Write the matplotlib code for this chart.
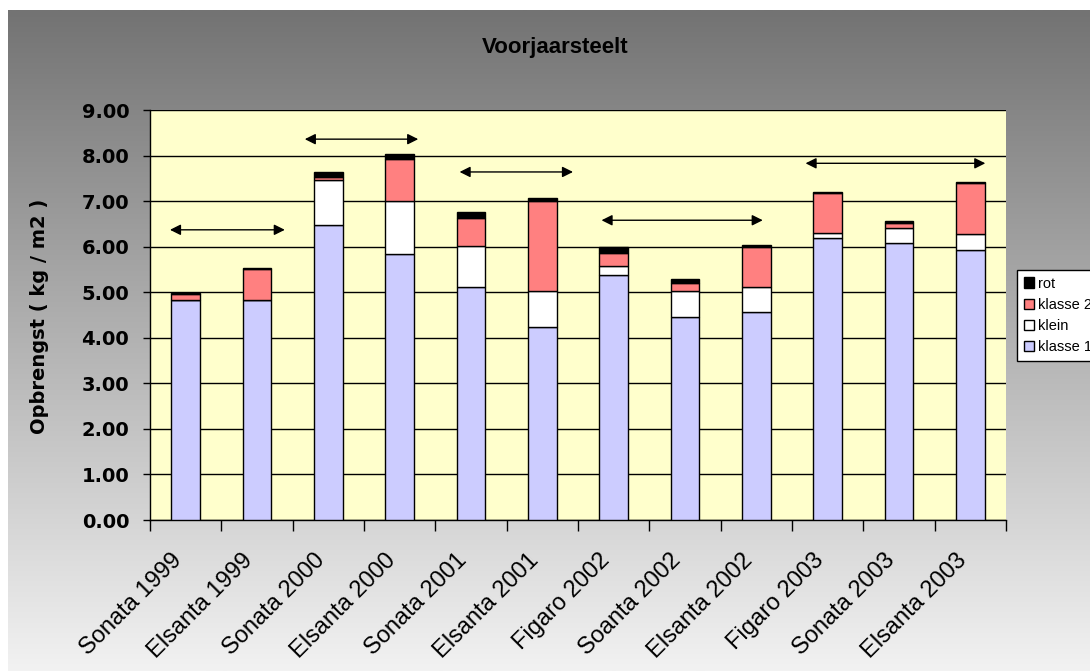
import numpy as np
import matplotlib
matplotlib.use("Agg")
import matplotlib.pyplot as plt
import matplotlib.transforms as mtransforms
from matplotlib.colors import LinearSegmentedColormap
from matplotlib.patches import Patch
from matplotlib.ticker import FormatStrFormatter

# ── data (kg / m2) ───────────────────────────────────────────────────────────
categories = ["Sonata 1999", "Elsanta 1999", "Sonata 2000", "Elsanta 2000",
              "Sonata 2001", "Elsanta 2001", "Figaro 2002", "Soanta 2002",
              "Elsanta 2002", "Figaro 2003", "Sonata 2003", "Elsanta 2003"]
klasse1 = [4.83, 4.83, 6.47, 5.84, 5.12, 4.24, 5.38, 4.46, 4.56, 6.18, 6.07, 5.93]
klein   = [0.00, 0.00, 0.99, 1.16, 0.89, 0.79, 0.20, 0.57, 0.56, 0.11, 0.35, 0.35]
klasse2 = [0.13, 0.68, 0.08, 0.92, 0.62, 1.98, 0.29, 0.18, 0.88, 0.89, 0.11, 1.12]
rot     = [0.02, 0.02, 0.09, 0.11, 0.14, 0.05, 0.12, 0.08, 0.03, 0.01, 0.03, 0.03]
yticks  = [0, 1, 2, 3, 4, 5, 6, 7, 8, 9]

# double arrows grouping the years (category units / kg m-2)
arrow_y  = [6.37, 8.36, 7.64, 6.58, 7.83]
arrow_x0 = [-0.22, 1.67, 3.84, 5.83, 8.69]
arrow_x1 = [1.39, 3.26, 5.43, 8.09, 11.21]

COL_K1, COL_KLEIN, COL_K2, COL_ROT = "#ccccff", "#ffffff", "#ff8080", "#000000"

W, H = 1090, 671
fig = plt.figure(figsize=(W / 100, H / 100), dpi=100)
fig.patch.set_facecolor("white")

# ── gradient chart background ────────────────────────────────────────────────
bg = fig.add_axes([8 / W, 0, 1 - 8 / W, 1 - 10 / H], zorder=-10)
grad = np.linspace(0, 1, 256).reshape(-1, 1)
cmap = LinearSegmentedColormap.from_list("bg", ["#737373", "#f2f2f2"])
bg.imshow(grad, aspect="auto", cmap=cmap, extent=[0, 1, 0, 1])
bg.set_axis_off()

# ── plot area ────────────────────────────────────────────────────────────────
ax = fig.add_axes([150 / W, 1 - 520 / H, 856 / W, 410 / H])
ax.set_facecolor("#ffffcc")
x = np.arange(len(categories))
k1 = np.array(klasse1); kl = np.array(klein); k2 = np.array(klasse2); r = np.array(rot)
bw = 0.4
kw = dict(width=bw, edgecolor="black", linewidth=1.0, zorder=3)
ax.bar(x, k1, color=COL_K1, **kw)
ax.bar(x, kl, bottom=k1, color=COL_KLEIN, **kw)
ax.bar(x, k2, bottom=k1 + kl, color=COL_K2, **kw)
ax.bar(x, r, bottom=k1 + kl + k2, color=COL_ROT, **kw)

for y, a, b in zip(arrow_y, arrow_x0, arrow_x1):
    ax.annotate("", xy=(b, y), xytext=(a, y),
                arrowprops=dict(arrowstyle="<|-|>", color="black", lw=1.0,
                                mutation_scale=16, shrinkA=0, shrinkB=0),
                zorder=4)

ax.set_xlim(-0.5, len(categories) - 0.5)
ax.set_ylim(0, 9)
ax.set_yticks(yticks)
ax.yaxis.set_major_formatter(FormatStrFormatter("%.2f"))
ax.grid(axis="y", color="black", lw=1.0, zorder=0)
ax.set_axisbelow(True)
for s in ("top", "right"):
    ax.spines[s].set_visible(False)
for s in ("left", "bottom"):
    ax.spines[s].set_linewidth(1.0)

# ticks between categories, rotated names drawn as text
ax.set_xticks(np.arange(len(categories) + 1) - 0.5)
ax.set_xticklabels([])
ax.tick_params(axis="x", which="major", length=8, width=1, direction="out")
lbl_tr = ax.get_xaxis_transform() + mtransforms.ScaledTranslation(
    -0.15, -0.29, fig.dpi_scale_trans)
for xi, name in zip(x, categories):
    ax.text(xi, 0, name, transform=lbl_tr, rotation=45, ha="right", va="top",
            rotation_mode="anchor", fontsize=17, family="Liberation Sans",
            clip_on=False)

ax.tick_params(axis="y", length=5, width=1, direction="out", pad=10)
for t in ax.get_yticklabels():
    t.set_fontsize(14)
    t.set_fontweight("bold")

fig.text(40 / W, 1 - 316 / H, "Opbrengst ( kg / m2 )", rotation=90,
         ha="center", va="center", fontsize=14, fontweight="bold")
fig.text(555 / W, 1 - 53 / H, "Voorjaarsteelt", ha="center", va="baseline",
         fontsize=16, fontweight="bold", family="Liberation Sans")

handles = [Patch(facecolor=COL_ROT, edgecolor="black", label="rot"),
           Patch(facecolor=COL_K2, edgecolor="black", label="klasse 2"),
           Patch(facecolor=COL_KLEIN, edgecolor="black", label="klein"),
           Patch(facecolor=COL_K1, edgecolor="black", label="klasse 1")]
leg = fig.legend(handles=handles, loc="upper left",
                 bbox_to_anchor=(1017 / W, 1 - 270 / H),
                 prop={"family": "Liberation Sans", "size": 10.5},
                 frameon=True, fancybox=False, framealpha=1, edgecolor="black",
                 handlelength=0.7, handleheight=0.7, handletextpad=0.3,
                 labelspacing=0.5, borderpad=0.45, borderaxespad=0)
leg.get_frame().set_linewidth(1.0)

fig.savefig("out.png", dpi=100)
